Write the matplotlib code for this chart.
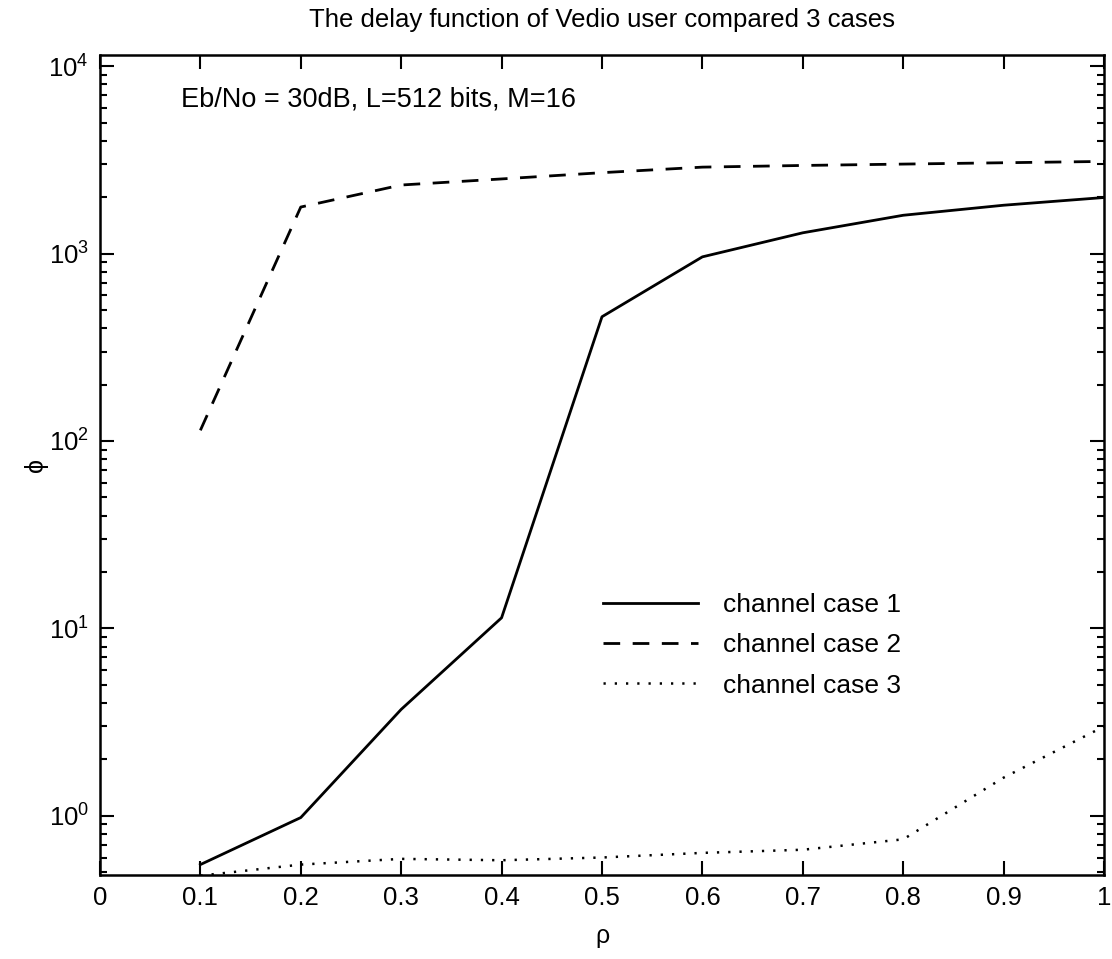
"""Delay function of video user for three channel cases (log scale)."""

import matplotlib

matplotlib.use("Agg")
import matplotlib.pyplot as plt  # noqa: E402
from matplotlib.ticker import LogLocator, NullFormatter  # noqa: E402

plt.rcParams["font.family"] = ["Liberation Sans", "DejaVu Sans"]
plt.rcParams["mathtext.fontset"] = "custom"
plt.rcParams["mathtext.rm"] = "Liberation Sans"
plt.rcParams["mathtext.default"] = "regular"

# data
rho = [0.1, 0.2, 0.3, 0.4, 0.5, 0.6, 0.7, 0.8, 0.9, 1.0]
case1 = [0.55, 0.98, 3.7, 11.4, 460, 960, 1290, 1600, 1810, 1990]
case2 = [114, 1770, 2320, 2500, 2700, 2890, 2950, 3000, 3050, 3100]
case3 = [0.48, 0.55, 0.59, 0.58, 0.60, 0.635, 0.66, 0.75, 1.6, 3.0]

x_ticks = [0, 0.1, 0.2, 0.3, 0.4, 0.5, 0.6, 0.7, 0.8, 0.9, 1.0]
x_ticklabels = ["0", "0.1", "0.2", "0.3", "0.4", "0.5", "0.6", "0.7", "0.8", "0.9", "1"]
labels = ["channel case 1", "channel case 2", "channel case 3"]
title = "The delay function of Vedio user compared 3 cases"
note = "Eb/No = 30dB, L=512 bits, M=16"


def main() -> None:
    fig = plt.figure(figsize=(11.12, 9.59), dpi=100)
    ax = fig.add_axes([0.0899, 0.0876, 0.9029, 0.855])

    ax.plot(rho, case1, color="black", linewidth=2.0, linestyle="-", label=labels[0])
    ax.plot(rho, case2, color="black", linewidth=2.0, linestyle=(0, (6, 4.5)), label=labels[1])
    ax.plot(rho, case3, color="black", linewidth=1.8, linestyle=(0, (0.9, 3.6)), label=labels[2])

    ax.set_yscale("log")
    ax.set_xlim(0, 1)
    ax.set_ylim(0.484, 11450)
    ax.set_xticks(x_ticks)
    ax.set_xticklabels(x_ticklabels)
    ax.yaxis.set_major_locator(LogLocator(base=10, numticks=10))
    ax.yaxis.set_minor_locator(LogLocator(base=10, subs=range(2, 10), numticks=10))
    ax.yaxis.set_minor_formatter(NullFormatter())

    ax.tick_params(which="both", direction="in", top=True, right=True, labelsize=18.5, width=1.5)
    ax.tick_params(which="major", length=10, pad=8)
    ax.tick_params(which="minor", length=5)
    for spine in ax.spines.values():
        spine.set_linewidth(1.8)

    ax.set_xlabel("ρ", fontsize=18, labelpad=10)
    ax.set_ylabel("ϕ", fontsize=18, labelpad=0)
    ax.set_title(title, fontsize=18.5, pad=20)
    ax.text(0.081, 0.937, note, transform=ax.transAxes, fontsize=19.5, va="baseline", ha="left")

    ax.legend(
        loc="upper left",
        bbox_to_anchor=(0.477, 0.373),
        frameon=False,
        fontsize=19,
        handlelength=3.6,
        handletextpad=0.95,
        labelspacing=0.62,
    )

    fig.savefig("out.png", dpi=100)
    plt.close(fig)


if __name__ == "__main__":
    main()
